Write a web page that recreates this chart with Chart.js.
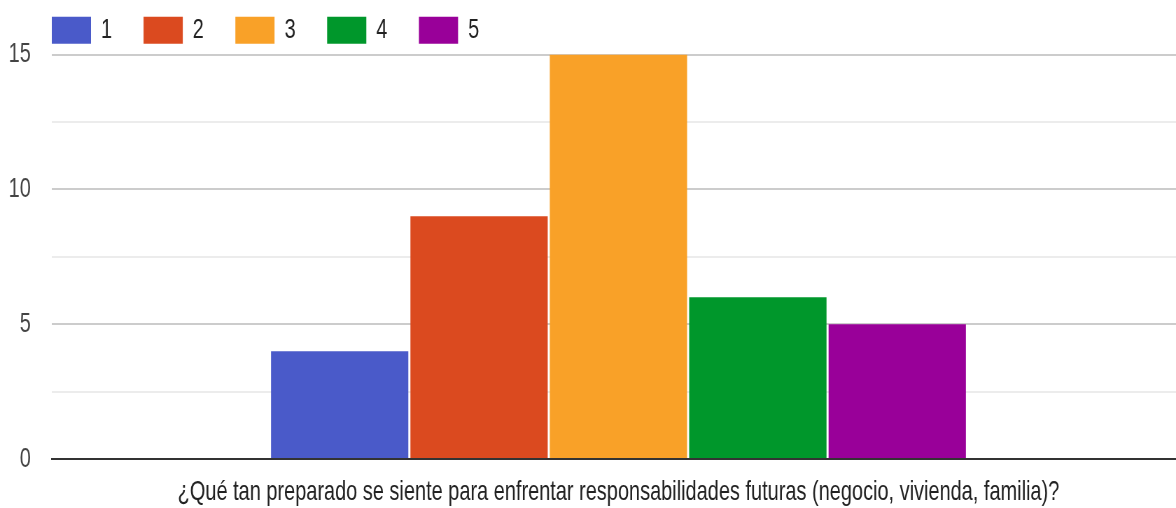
<!DOCTYPE html>
<html>
<head>
<meta charset="utf-8">
<script src="https://cdn.jsdelivr.net/npm/chart.js@4"></script>
<style>
  html, body { margin: 0; padding: 0; background: #fff; overflow: hidden; }
  #wrap { width: 1176px; height: 508px; overflow: hidden; }
  /* the chart is drawn wide and squeezed to a narrow look */
  #myChart { transform: scaleX(0.7); transform-origin: 0 0; }
</style>
</head>
<body>
<div id="wrap"><canvas id="myChart" width="1694" height="508"></canvas></div>
<script>
const question = ["¿Qué tan preparado se siente para enfrentar responsabilidades futuras (negocio, vivienda, familia)?"];
const ratings = ["1", "2", "3", "4", "5"];
const counts = [4, 9, 15, 6, 5];
const colors = ["#4a5ac9", "#db4a1f", "#f9a128", "#00972b", "#990099"];

const FONT = "Arial, 'Liberation Sans', sans-serif";
const FONT_SIZE = 28.5;

const data = {
  labels: question,
  datasets: ratings.map((r, i) => ({
    label: r,
    data: [counts[i]],
    backgroundColor: colors[i],
    borderWidth: 0,
    categoryPercentage: 0.615,
    barPercentage: 0.985,
  })),
};

// line the legend up with the left edge of the plot area
const legendShift = {
  id: "legendShift",
  afterLayout(chart) {
    if (chart.legend) chart.legend.left += 29;
  },
};

const config = {
  type: "bar",
  data: data,
  plugins: [legendShift],
  options: {
    responsive: false,
    animation: false,
    layout: {
      padding: { top: -29, left: 0, right: 1, bottom: 0 },
    },
    plugins: {
      legend: {
        position: "top",
        align: "start",
        labels: {
          boxWidth: 56,
          boxHeight: 27,
          padding: 45,
          color: "#222",
          font: { family: FONT, size: FONT_SIZE },
        },
      },
      tooltip: { enabled: false },
    },
    scales: {
      x: {
        grid: { display: false },
        border: { display: true, color: "#333", width: 2 },
        ticks: {
          color: "#222",
          padding: 8,
          font: { family: FONT, size: FONT_SIZE },
        },
        afterFit: (scale) => { scale.height = 49; },
      },
      y: {
        min: 0,
        max: 15,
        border: { display: false },
        grid: {
          drawTicks: false,
          lineWidth: 2,
          color: (ctx) => {
            const v = ctx.tick.value;
            if (v === 0) return "rgba(0,0,0,0)";
            return v % 5 === 0 ? "#cccccc" : "#ececec";
          },
        },
        ticks: {
          stepSize: 2.5,
          padding: 30,
          color: "#444",
          font: { family: FONT, size: FONT_SIZE },
          callback: (v) => (v % 5 === 0 ? v : ""),
        },
        afterFit: (scale) => { scale.width = 74; },
      },
    },
  },
};

var myChart = new Chart(document.getElementById("myChart"), config);
</script>
</body>
</html>
